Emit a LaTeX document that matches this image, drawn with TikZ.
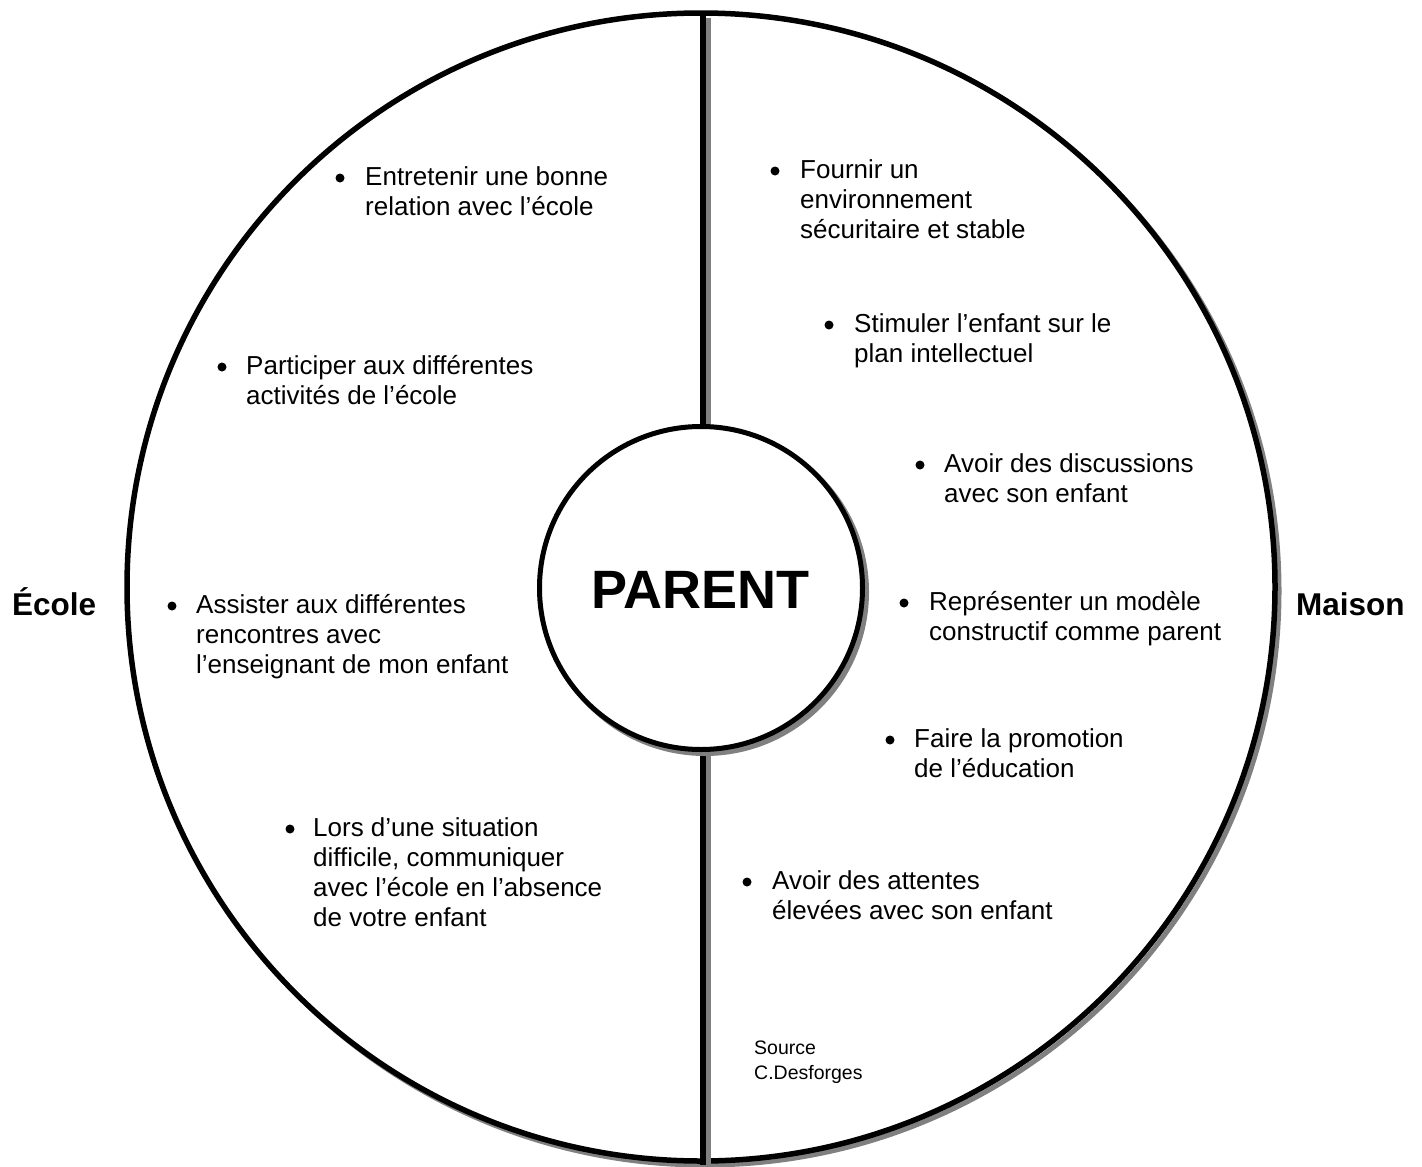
\documentclass[tikz,border=0pt]{standalone}
\usepackage{fontspec}
\setmainfont{Liberation Sans}
\begin{document}
\begin{tikzpicture}[x=1pt,y=-1pt,
  itemtext/.style={anchor=base west,inner sep=0pt,font=\fontsize{26}{30}\selectfont},
  bul/.style={circle,fill=black,inner sep=0pt,minimum size=9pt},
  side/.style={anchor=base west,inner sep=0pt,font=\fontsize{31.5}{35}\selectfont\bfseries}]
\useasboundingbox[fill=white] (0,0) rectangle (1422,1167);
% outer circle shadow + circle
\draw[black!50,line width=5pt] (705,591) circle[radius=574];
\fill[white] (701,587) circle[radius=574];
\draw[line width=5.5pt] (701,587) circle[radius=574];
\node[circle,inner sep=0pt,minimum size=1148pt] (outer) at (701,587) {};
% vertical divider (shadow first)
\coordinate (topsh) at (708.5,18);
\coordinate (botsh) at (708.5,1167);
\draw[black!50,line width=5pt] (topsh) -- (708.5,430);
\draw[black!50,line width=5pt] (708.5,750) -- (botsh);
\coordinate (ptop) at (702.5,426);
\coordinate (pbot) at (702.5,750);
\coordinate (otop) at (702.5,12);
\coordinate (obot) at (702.5,1165);
\draw[line width=6pt] (otop) -- (ptop);
\draw[line width=6pt] (pbot) -- (obot);
% inner circle
\fill[black!50] (705,592) circle[radius=164];
\fill[white] (701,588) circle[radius=161.5];
\draw[line width=5pt] (701,588) circle[radius=161.5];
\node[circle,inner sep=0pt,minimum size=323pt] (parent) at (701,588) {};
\node[anchor=base,inner sep=0pt,font=\fontsize{54}{60}\selectfont\bfseries] (ptext) at (700,608) {PARENT};
% side labels
\node[side] (ecole) at (12,615) {École};
\node[side] (maison) at (1296,615) {Maison};
% left items
\node[bul] (b1) at (340,178) {};
\node[itemtext] (t1) at (365,185) {\begin{tabular}[t]{@{}l@{}}Entretenir une bonne\\relation avec l’école\end{tabular}};
\node[bul] (b2) at (222,367) {};
\node[itemtext] (t2) at (246,374) {\begin{tabular}[t]{@{}l@{}}Participer aux différentes\\activités de l’école\end{tabular}};
\node[bul] (b3) at (172,606) {};
\node[itemtext] (t3) at (196,613) {\begin{tabular}[t]{@{}l@{}}Assister aux différentes\\rencontres avec\\l’enseignant de mon enfant\end{tabular}};
\node[bul] (b4) at (290,829) {};
\node[itemtext] (t4) at (313,836) {\begin{tabular}[t]{@{}l@{}}Lors d’une situation\\difficile, communiquer\\avec l’école en l’absence\\de votre enfant\end{tabular}};
% right items
\node[bul] (b5) at (775,171) {};
\node[itemtext] (t5) at (800,178) {\begin{tabular}[t]{@{}l@{}}Fournir un\\environnement\\sécuritaire et stable\end{tabular}};
\node[bul] (b6) at (829,325) {};
\node[itemtext] (t6) at (854,332) {\begin{tabular}[t]{@{}l@{}}Stimuler l’enfant sur le\\plan intellectuel\end{tabular}};
\node[bul] (b7) at (920,465) {};
\node[itemtext] (t7) at (944,472) {\begin{tabular}[t]{@{}l@{}}Avoir des discussions\\avec son enfant\end{tabular}};
\node[bul] (b8) at (904,603) {};
\node[itemtext] (t8) at (929,610) {\begin{tabular}[t]{@{}l@{}}Représenter un modèle\\constructif comme parent\end{tabular}};
\node[bul] (b9) at (890,740) {};
\node[itemtext] (t9) at (914,747) {\begin{tabular}[t]{@{}l@{}}Faire la promotion\\de l’éducation\end{tabular}};
\node[bul] (b10) at (747,882) {};
\node[itemtext] (t10) at (772,889) {\begin{tabular}[t]{@{}l@{}}Avoir des attentes\\élevées avec son enfant\end{tabular}};
% source
\node[anchor=base west,inner sep=0pt,font=\fontsize{19.5}{25}\selectfont] (src) at (754,1054) {\begin{tabular}[t]{@{}l@{}}Source\\C.Desforges\end{tabular}};
\end{tikzpicture}
\end{document}
